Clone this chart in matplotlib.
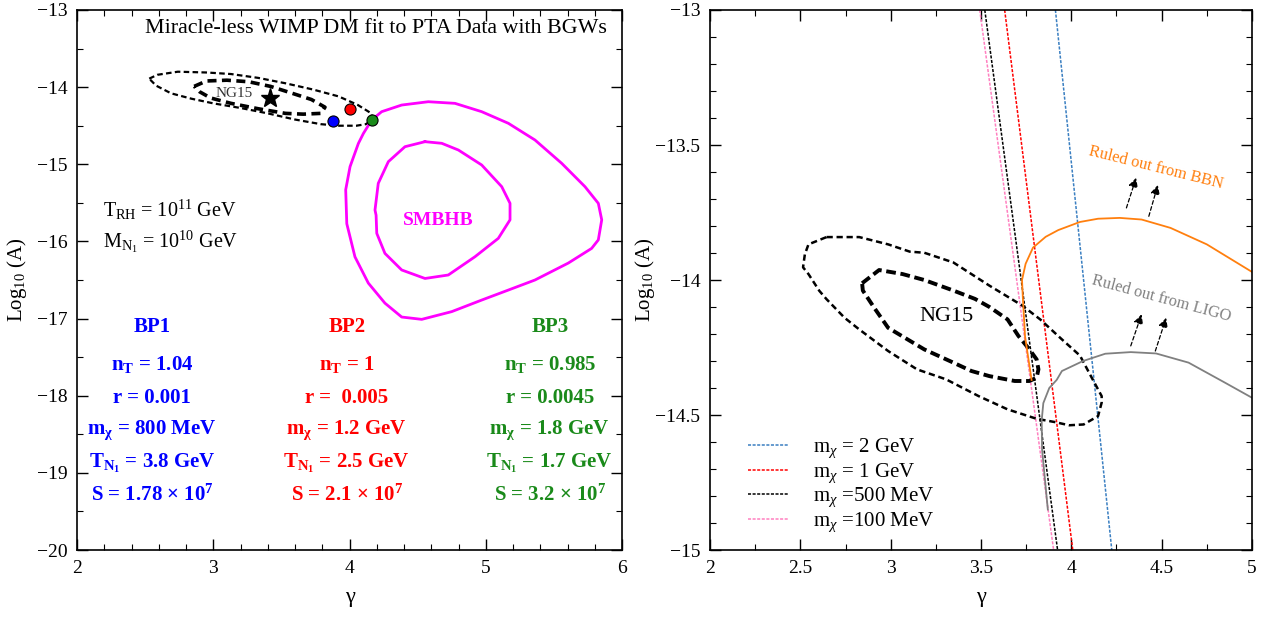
import matplotlib
matplotlib.use("Agg")
import matplotlib.pyplot as plt
from matplotlib.ticker import MultipleLocator, FuncFormatter

plt.rcParams["font.family"] = ["Liberation Serif", "DejaVu Serif"]
plt.rcParams["mathtext.fontset"] = "custom"
plt.rcParams["mathtext.rm"] = "Liberation Serif"
plt.rcParams["mathtext.it"] = "Liberation Serif:italic"
plt.rcParams["mathtext.bf"] = "Liberation Serif:bold"

# ---- left panel data ----
ng15_outer_g = [2.53, 2.59, 2.74, 2.95, 3.13, 3.33, 3.53, 3.73, 3.92, 4.06, 4.16, 4.17, 4.12, 4.05, 3.92, 3.79, 3.60, 3.40, 3.20, 3.00, 2.84, 2.69, 2.58, 2.53]
ng15_outer_a = [-13.89, -13.84, -13.80, -13.81, -13.83, -13.88, -13.95, -14.03, -14.12, -14.23, -14.34, -14.42, -14.48, -14.50, -14.50, -14.48, -14.42, -14.34, -14.27, -14.21, -14.15, -14.08, -13.98, -13.89]
ng15_inner_g = [2.86, 2.95, 3.10, 3.26, 3.42, 3.58, 3.72, 3.82, 3.79, 3.66, 3.53, 3.33, 3.13, 2.98, 2.90, 2.86]
ng15_inner_a = [-13.99, -13.92, -13.91, -13.93, -13.99, -14.08, -14.16, -14.26, -14.34, -14.35, -14.34, -14.28, -14.21, -14.14, -14.06, -13.99]
star_pt = (3.42, -14.14)
bp_g = [3.88, 4.00, 4.165]
bp_a = [-14.435, -14.285, -14.42]
bp_colors = ["#0000ff", "#ff0000", "#1a8a1a"]

smbhb_outer_g = [4.163, 4.236, 4.383, 4.578, 4.774, 4.970, 5.166, 5.361, 5.557, 5.728, 5.826, 5.851, 5.826, 5.777, 5.606, 5.361, 5.166, 4.970, 4.75, 4.53, 4.383, 4.26, 4.138, 4.04, 3.98, 3.972, 4.004, 4.065, 4.102, 4.163]
smbhb_outer_a = [-14.426, -14.318, -14.232, -14.189, -14.21, -14.318, -14.469, -14.685, -14.987, -15.29, -15.506, -15.72, -15.98, -16.09, -16.28, -16.50, -16.63, -16.76, -16.91, -17.01, -16.98, -16.80, -16.54, -16.20, -15.77, -15.33, -15.03, -14.73, -14.60, -14.426]
smbhb_inner_g = [4.554, 4.407, 4.285, 4.211, 4.187, 4.195, 4.2, 4.26, 4.383, 4.554, 4.725, 4.921, 5.092, 5.178, 5.178, 5.117, 4.970, 4.799, 4.677, 4.554]
smbhb_inner_a = [-14.707, -14.772, -14.966, -15.247, -15.593, -15.66, -15.895, -16.155, -16.37, -16.48, -16.435, -16.198, -15.96, -15.72, -15.506, -15.29, -15.009, -14.815, -14.728, -14.707]

bp_titles = ["BP1", "BP2", "BP3"]
bp_nT = ["1.04", "1", "0.985"]
bp_r = ["0.001", " 0.005", "0.0045"]
bp_m = ["800 MeV", "1.2 GeV", "1.8 GeV"]
bp_T = ["3.8 GeV", "2.5 GeV", "1.7 GeV"]
bp_S = ["1.78", "2.1", "3.2"]

# ---- right panel data ----
mass_labels = [r"m$_\chi$ = 2 GeV", r"m$_\chi$ = 1 GeV", r"m$_\chi$ =500 MeV", r"m$_\chi$ =100 MeV"]
mass_colors = ["#3a7fc1", "#ff0000", "#000000", "#ff80c0"]
line_g_top = [3.912, 3.631, 3.521, 3.493]
line_g_bot = [4.224, 4.008, 3.924, 3.902]

r_outer_g = [2.645, 2.826, 2.986, 3.106, 3.186, 3.347, 3.547, 3.727, 3.828, 3.948, 4.048, 4.118, 4.168, 4.168, 4.148, 4.068, 3.988, 3.908, 3.808, 3.647, 3.487, 3.307, 3.146, 2.986, 2.826, 2.745, 2.645, 2.605, 2.545, 2.515, 2.525, 2.545, 2.645]
r_outer_a = [-13.841, -13.841, -13.868, -13.895, -13.899, -13.935, -14.021, -14.094, -14.146, -14.22, -14.28, -14.368, -14.43, -14.454, -14.504, -14.535, -14.538, -14.526, -14.514, -14.479, -14.43, -14.368, -14.331, -14.263, -14.183, -14.14, -14.071, -14.04, -13.978, -13.953, -13.905, -13.868, -13.841]
r_inner_g = [2.842, 2.936, 3.066, 3.186, 3.347, 3.467, 3.547, 3.647, 3.707, 3.768, 3.808, 3.818, 3.808, 3.768, 3.687, 3.547, 3.447, 3.347, 3.186, 2.986, 2.906, 2.846, 2.842]
r_inner_a = [-14.012, -13.963, -13.978, -14.0, -14.039, -14.07, -14.10, -14.146, -14.207, -14.257, -14.294, -14.331, -14.362, -14.374, -14.374, -14.356, -14.337, -14.306, -14.257, -14.177, -14.10, -14.039, -14.012]

bbn_g = [3.78, 3.744, 3.732, 3.727, 3.747, 3.788, 3.858, 3.928, 4.048, 4.148, 4.268, 4.389, 4.549, 4.75, 4.87, 5.0]
bbn_a = [-14.37, -14.21, -14.07, -14.0, -13.94, -13.88, -13.84, -13.815, -13.785, -13.773, -13.77, -13.776, -13.807, -13.868, -13.917, -13.97]
ligo_g = [3.87, 3.838, 3.836, 3.845, 3.878, 3.919, 3.948, 4.065, 4.188, 4.329, 4.469, 4.649, 4.85, 5.0]
ligo_a = [-14.85, -14.627, -14.52, -14.456, -14.40, -14.37, -14.337, -14.30, -14.273, -14.267, -14.272, -14.306, -14.38, -14.436]

bbn_arrows = [((4.305, -13.733), (4.359, -13.621)), ((4.429, -13.764), (4.479, -13.648))]
ligo_arrows = [((4.329, -14.244), (4.389, -14.127)), ((4.465, -14.263), (4.525, -14.14))]


def short_num(v, pos):
    return ("%g" % v).replace("-", "\u2212")


def style_axes(ax):
    ax.tick_params(which="both", direction="in", top=True, right=True, labelsize=14, pad=7)
    ax.tick_params(which="major", length=8, width=1)
    ax.tick_params(which="minor", length=4, width=0.8)
    ax.xaxis.set_major_formatter(FuncFormatter(short_num))
    ax.yaxis.set_major_formatter(FuncFormatter(short_num))
    for s in ax.spines.values():
        s.set_linewidth(1.2)


fig = plt.figure(figsize=(12.77, 6.21), dpi=100)
ax1 = fig.add_axes([0.0603, 0.1143, 0.4268, 0.8696])
ax2 = fig.add_axes([0.556, 0.1143, 0.4244, 0.8696])

# left panel
ax1.plot(ng15_outer_g, ng15_outer_a, color="black", lw=1.6, dashes=(2.5, 1.5))
ax1.plot(ng15_inner_g, ng15_inner_a, color="black", lw=2.6, dashes=(2.5, 1.5))
ax1.plot(smbhb_outer_g, smbhb_outer_a, color="#ff00ff", lw=2)
ax1.plot(smbhb_inner_g, smbhb_inner_a, color="#ff00ff", lw=2)
ax1.plot(*star_pt, marker="*", color="black", ms=14)
for g, a, c in zip(bp_g, bp_a, bp_colors):
    ax1.plot(g, a, "o", color=c, mec="black", mew=0.8, ms=8, zorder=5)

ax1.text(3.15, -14.08, "NG15", fontsize=11, color="#333333", ha="center", va="center")
ax1.text(5.89, -13.24, "Miracle-less WIMP DM fit to PTA Data with BGWs", fontsize=15.8, ha="right", va="center")
ax1.text(4.652, -15.73, "SMBHB", fontsize=14, color="#ff00ff", fontweight="bold", ha="center", va="center")
ax1.text(2.19, -15.59, r"T$_\mathrm{RH}$ = 10$^{11}$ GeV", fontsize=14.5, va="center")
ax1.text(2.19, -16.0, r"M$_{\mathrm{N}_1}$ = 10$^{10}$ GeV", fontsize=14.5, va="center")

col_x = [2.55, 3.98, 5.47]
row_y = [-17.105, -17.60, -18.03, -18.445, -18.88, -19.29]
for i in range(3):
    c = bp_colors[i]
    lines = [
        bp_titles[i],
        r"n$_\mathbf{T}$ = " + bp_nT[i],
        "r = " + bp_r[i],
        r"m$_\mathbf{\chi}$ = " + bp_m[i],
        r"T$_{\mathbf{N}_\mathbf{1}}$ = " + bp_T[i],
        "S = " + bp_S[i] + r" × 10$^\mathbf{7}$",
    ]
    for j, s in enumerate(lines):
        ax1.text(col_x[i], row_y[j], s, fontsize=15, color=c, fontweight="bold", ha="center", va="center")

ax1.set_xlim(2, 6)
ax1.set_ylim(-20, -13)
ax1.xaxis.set_major_locator(MultipleLocator(1))
ax1.xaxis.set_minor_locator(MultipleLocator(0.2))
ax1.yaxis.set_major_locator(MultipleLocator(1))
ax1.yaxis.set_minor_locator(MultipleLocator(0.5))
ax1.set_xlabel("γ", fontsize=16, labelpad=8)
ax1.set_ylabel(r"Log$_{10}$ (A)", fontsize=15)
ax1.yaxis.set_label_coords(-0.088, 0.5)
style_axes(ax1)

# right panel
for lab, c, gt, gb in zip(mass_labels, mass_colors, line_g_top, line_g_bot):
    ax2.plot([gt, gb], [-13, -15], color=c, lw=1.1, dashes=(2, 1), label=lab)
ax2.plot(r_outer_g, r_outer_a, color="black", lw=1.8, dashes=(2.5, 1.5))
ax2.plot(r_inner_g, r_inner_a, color="black", lw=2.8, dashes=(2.5, 1.2))
ax2.plot(bbn_g, bbn_a, color="#ff7f0e", lw=1.3)
ax2.plot(ligo_g, ligo_a, color="#808080", lw=1.3)
for (p0, p1) in bbn_arrows + ligo_arrows:
    ax2.annotate("", xy=p1, xytext=p0,
                 arrowprops=dict(arrowstyle="-|>", color="black", lw=0.9, linestyle=(0, (3, 2)),
                                 mutation_scale=14, shrinkA=0, shrinkB=0))

ax2.text(3.31, -14.135, "NG15", fontsize=16, ha="center", va="center")
ax2.text(4.47, -13.585, "Ruled out from BBN", fontsize=11.8, color="#ff7f0e", rotation=-14, ha="center", va="center")
ax2.text(4.5, -14.07, "Ruled out from LIGO", fontsize=11.8, color="#808080", rotation=-15, ha="center", va="center")

ax2.legend(loc="lower left", bbox_to_anchor=(0.035, -0.005), frameon=False, fontsize=15,
           handlelength=2.0, handletextpad=1.15, labelspacing=0.05)

ax2.set_xlim(2, 5)
ax2.set_ylim(-15, -13)
ax2.xaxis.set_major_locator(MultipleLocator(0.5))
ax2.xaxis.set_minor_locator(MultipleLocator(0.25))
ax2.yaxis.set_major_locator(MultipleLocator(0.5))
ax2.yaxis.set_minor_locator(MultipleLocator(0.1))
ax2.set_xlabel("γ", fontsize=16, labelpad=8)
ax2.set_ylabel(r"Log$_{10}$ (A)", fontsize=15)
ax2.yaxis.set_label_coords(-0.097, 0.5)
style_axes(ax2)

fig.savefig("out.png", dpi=100)
